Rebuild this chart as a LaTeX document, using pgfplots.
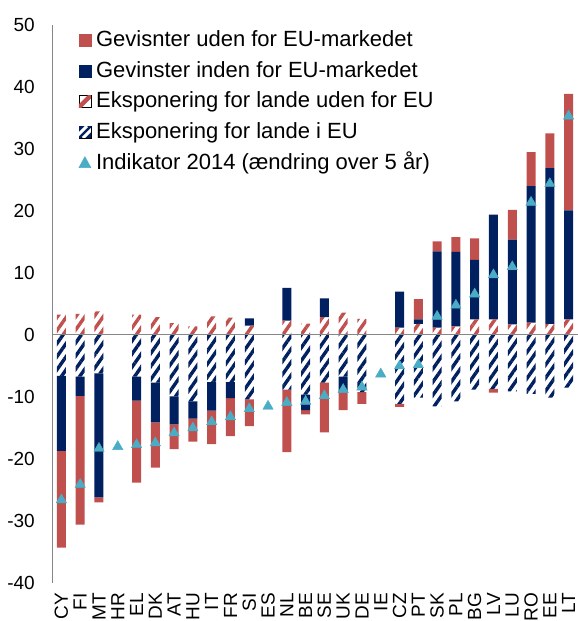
\documentclass[border=0pt]{standalone}
\usepackage{fontspec}
\setmainfont{Liberation Sans}
\usepackage{pgfplots}
\usepackage{pgfplotstable}
\pgfplotsset{compat=1.18}
\usetikzlibrary{patterns.meta}

\definecolor{redc}{HTML}{C0504D}
\definecolor{navyc}{HTML}{002060}
\definecolor{triC}{HTML}{4BACC6}
\definecolor{axc}{RGB}{134,134,134}

% rh = Eksponering uden for EU (+), np/rp = gains positive parts,
% nh = Eksponering i EU (-), nn/rn = gains negative parts
\pgfplotstableread{
x  rh    np    rp    nh     nn     rn
0  3.3   0     0     -6.6   -12.1  -15.6
1  3.4   0     0     -6.7   -3.1   -20.8
2  3.8   0     0     -6.2   -20.0  -0.8
3  0     0     0     0      0      0
4  3.3   0     0     -6.7   -3.9   -13.2
5  2.9   0     0     -7.7   -6.4   -7.3
6  1.9   0     0     -9.9   -4.5   -4.0
7  1.4   0     0     -10.7  -2.8   -3.7
8  3.0   0     0     -7.6   -4.6   -5.4
9  2.8   0     0     -7.6   -2.6   -6.1
10 1.5   1.2   0     -10.4  0      -4.3
11 0     0     0     0      0      0
12 2.3   5.3   0     -8.8   0      -10.1
13 1.85  0     0     -9.6   -2.5   -0.7
14 2.9   3.0   0     -7.7   0      -8.0
15 3.6   0     0     -6.7   -2.5   -2.9
16 2.6   0     0     -9.2   0      -1.9
17 0     0     0     0      0      0
18 1.2   5.8   0     -11.1  0      -0.5
19 1.8   0.7   3.3   -10.1  0      0
20 1.2   12.3  1.6   -11.5  0      0
21 1.4   12.0  2.4   -10.7  0      0
22 2.5   9.6   3.5   -8.8   0      0
23 2.5   16.9  0     -8.7   0      -0.6
24 1.7   13.7  4.8   -9.1   0      0
25 2.0   22.0  5.5   -9.5   0      0
26 1.8   25.1  5.6   -10.1  0      0
27 2.5   17.6  18.8  -8.5   0      0
}\bars

\pgfplotstableread{
x  ind
0  -26.6
1  -24.1
2  -18.3
3  -18.0
4  -17.7
5  -17.4
6  -15.8
7  -15.0
8  -14.0
9  -13.2
10 -11.9
11 -11.5
12 -10.9
13 -10.7
14 -9.8
15 -8.8
16 -8.4
17 -6.3
18 -5.0
19 -4.8
20 3.0
21 4.8
22 6.6
23 9.7
24 11.0
25 21.4
26 24.4
27 35.3
}\indic

\begin{document}
\begin{tikzpicture}
\pgfplotsset{base/.style={width=526pt,height=558pt,scale only axis,
  at={(52pt,38pt)},anchor=south west,
  xmin=-0.5,xmax=27.5,ymin=-40,ymax=50}}
\begin{axis}[base,
  ybar stacked, bar width=9pt,
  axis on top,
  axis x line*=bottom, axis y line*=left,
  x axis line style={draw=none},
  y axis line style={draw=axc,line width=1pt},
  major tick length=0pt,
  ytick={-40,-30,...,50},
  extra y ticks={0}, extra y tick labels={},
  extra y tick style={grid=major, major grid style={draw=axc,line width=1pt}},
  xtick={0,...,27},
  xticklabels={CY,FI,MT,HR,EL,DK,AT,HU,IT,FR,SI,ES,NL,BE,SE,UK,DE,IE,CZ,PT,SK,PL,BG,LV,LU,RO,EE,LT},
  /pgf/number format/assume math mode=true,
  tick label style={font=\fontsize{19}{22}\selectfont, inner sep=0pt},
  yticklabel style={anchor=east},
  yticklabel shift=17pt,
  xticklabel style={rotate=90, anchor=east},
  xticklabel shift=10pt,
]
\addplot[draw=none, pattern={Lines[angle=55,distance=7.5pt,line width=3.4pt]}, pattern color=redc] table[x=x,y=rh]{\bars};
\addplot[draw=none, fill=navyc] table[x=x,y=np]{\bars};
\addplot[draw=none, fill=redc] table[x=x,y=rp]{\bars};
\addplot[draw=none, pattern={Lines[angle=55,distance=7.5pt,line width=3.4pt]}, pattern color=navyc] table[x=x,y=nh]{\bars};
\addplot[draw=none, fill=navyc] table[x=x,y=nn]{\bars};
\addplot[draw=none, fill=redc] table[x=x,y=rn]{\bars};
\end{axis}

\begin{axis}[base, hide axis,
  legend style={at={(0,1)}, anchor=north west, xshift=26.5pt, yshift=-3.5pt,
    draw=none, fill=none, inner sep=0pt, row sep=7.6pt, column sep=4pt,
    font=\fontsize{22}{24}\selectfont,
    nodes={inner sep=1pt, text height=17pt, text depth=4pt}},
  legend cell align=left,
]
\addlegendimage{legend image code/.code={\fill[redc] (0pt,-6pt) rectangle (12pt,6pt);}}
\addlegendentry{Gevisnter uden for EU-markedet}
\addlegendimage{legend image code/.code={\fill[navyc] (0pt,-6pt) rectangle (12pt,6pt);}}
\addlegendentry{Gevinster inden for EU-markedet}
\addlegendimage{legend image code/.code={\begin{scope}\clip (0pt,-6pt) rectangle (12pt,6pt);
   \draw[redc,line width=4.5pt] (-2pt,-8pt) -- (14pt,8pt);\end{scope}}}
\addlegendentry{Eksponering for lande uden for EU}
\addlegendimage{legend image code/.code={\begin{scope}\clip (0pt,-6pt) rectangle (12pt,6pt);
   \fill[navyc] (0pt,-6pt) rectangle (12pt,6pt);
   \draw[white,line width=3pt] (-4pt,-6pt) -- (8pt,6pt);
   \draw[white,line width=3pt] (4pt,-6pt) -- (16pt,6pt);\end{scope}}}
\addlegendentry{Eksponering for lande i EU}
\addlegendimage{legend image code/.code={\fill[triC] (0pt,-5pt) -- (12pt,-5pt) -- (6pt,6pt) -- cycle;}}
\addlegendentry{Indikator 2014 (ændring over 5 år)}
\addplot[forget plot, only marks, mark=triangle*, mark size=6pt,
  mark options={fill=triC,draw=triC}] table[x=x,y=ind]{\indic};
\end{axis}
\pgfresetboundingbox
\path[use as bounding box] (0pt,0pt) rectangle (578pt,621pt);
\end{tikzpicture}
\end{document}
